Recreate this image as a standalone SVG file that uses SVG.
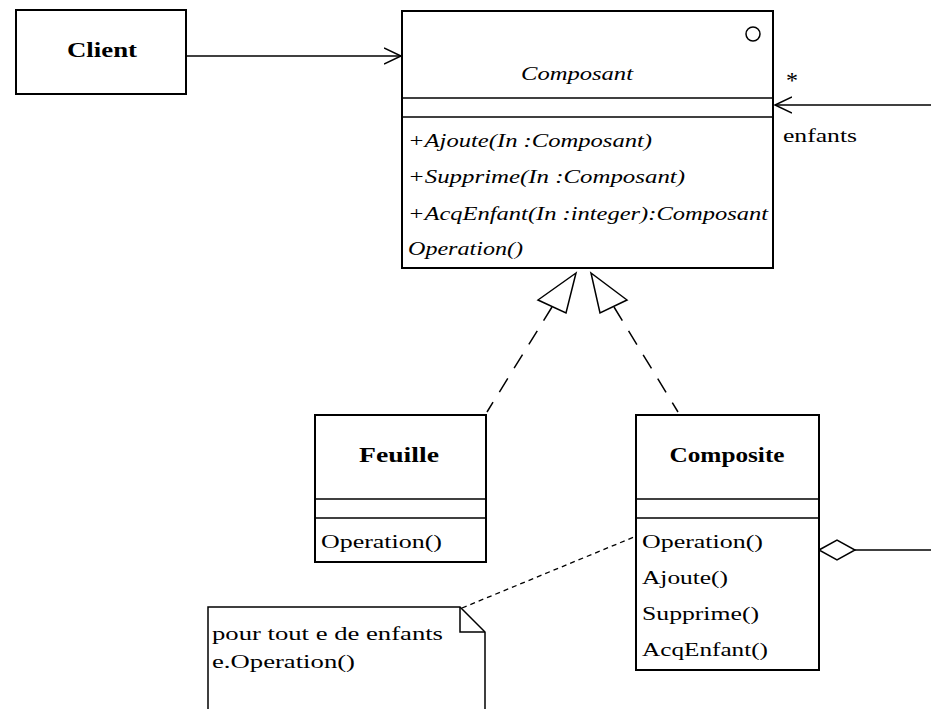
<svg xmlns="http://www.w3.org/2000/svg" width="931" height="709" viewBox="0 0 931 709">
<style>
.box{fill:#fff;stroke:#000;stroke-width:2}
.ln{stroke:#000;stroke-width:1.5;fill:none}
.dash{stroke:#000;stroke-width:1.5;fill:none;stroke-dasharray:16 12}
.dot{stroke:#000;stroke-width:1.3;fill:none;stroke-dasharray:5 4}
.t{font-family:"Liberation Serif","Times New Roman","DejaVu Serif",serif;font-size:19px;fill:#000}
.b{font-weight:bold;text-anchor:middle;font-size:20px}
.i{font-style:italic}
</style>
<defs>
<marker id="open" markerWidth="20" markerHeight="20" refX="17" refY="9" orient="auto" markerUnits="userSpaceOnUse">
<path d="M0,1 L17,9 L0,17" fill="none" stroke="#000" stroke-width="1.5"/>
</marker>
</defs>
<rect width="931" height="709" fill="#fff"/>
<g id="connectors">
<line class="ln" x1="186" y1="56" x2="401" y2="56" marker-end="url(#open)"/>
<line class="ln" x1="931" y1="105" x2="775" y2="105" marker-end="url(#open)"/>
<line class="dash" x1="552" y1="307" x2="487" y2="412"/>
<polygon class="ln" points="576,273 538,300 566,313" fill="#fff"/>
<line class="dash" x1="614" y1="307" x2="678" y2="412"/>
<polygon class="ln" points="591,273 600,313 627,300" fill="#fff"/>
<polygon class="ln" points="819,550 837,540 855,550 837,560" fill="#fff"/>
<line class="ln" x1="855" y1="550" x2="931" y2="550"/>
<line class="dot" x1="462" y1="608" x2="634" y2="537"/>
<text class="t" x="786" y="88" style="font-size:24px">*</text>
<text class="t" x="783" y="142" textLength="74" lengthAdjust="spacingAndGlyphs">enfants</text>
</g>
<g id="client">
<rect class="box" x="16" y="10" width="170" height="84"/>
<text class="t b" x="102" y="57" textLength="70" lengthAdjust="spacingAndGlyphs">Client</text>
</g>
<g id="composant">
<rect class="box" x="402" y="11" width="371" height="257"/>
<line class="ln" x1="402" y1="98" x2="773" y2="98"/>
<line class="ln" x1="402" y1="117" x2="773" y2="117"/>
<circle cx="753" cy="34" r="7" fill="none" stroke="#000" stroke-width="1.5"/>
<text class="t i" x="577" y="80" text-anchor="middle" textLength="112" lengthAdjust="spacingAndGlyphs">Composant</text>
<text class="t i" x="408" y="147" textLength="244" lengthAdjust="spacingAndGlyphs">+Ajoute(In :Composant)</text>
<text class="t i" x="408" y="183" textLength="277" lengthAdjust="spacingAndGlyphs">+Supprime(In :Composant)</text>
<text class="t i" x="408" y="220" textLength="360" lengthAdjust="spacingAndGlyphs">+AcqEnfant(In :integer):Composant</text>
<text class="t i" x="408" y="255" textLength="115" lengthAdjust="spacingAndGlyphs">Operation()</text>
</g>
<g id="feuille">
<rect class="box" x="315" y="415" width="171" height="147"/>
<line class="ln" x1="315" y1="499" x2="486" y2="499"/>
<line class="ln" x1="315" y1="518" x2="486" y2="518"/>
<text class="t b" x="399" y="462" textLength="80" lengthAdjust="spacingAndGlyphs">Feuille</text>
<text class="t" x="321" y="548" textLength="121" lengthAdjust="spacingAndGlyphs">Operation()</text>
</g>
<g id="composite">
<rect class="box" x="636" y="415" width="183" height="255"/>
<line class="ln" x1="636" y1="499" x2="819" y2="499"/>
<line class="ln" x1="636" y1="518" x2="819" y2="518"/>
<text class="t b" x="727" y="462" textLength="115" lengthAdjust="spacingAndGlyphs">Composite</text>
<text class="t" x="642" y="548" textLength="121" lengthAdjust="spacingAndGlyphs">Operation()</text>
<text class="t" x="642" y="584" textLength="86" lengthAdjust="spacingAndGlyphs">Ajoute()</text>
<text class="t" x="642" y="620" textLength="117" lengthAdjust="spacingAndGlyphs">Supprime()</text>
<text class="t" x="642" y="656" textLength="126" lengthAdjust="spacingAndGlyphs">AcqEnfant()</text>
</g>
<g id="note">
<path class="ln" d="M208,712 L208,607 L460,607 L485,632 L485,712" stroke-width="2"/>
<path class="ln" d="M460,607 L460,632 L485,632"/>
<text class="t" x="212" y="640" textLength="231" lengthAdjust="spacingAndGlyphs">pour tout e de enfants</text>
<text class="t" x="212" y="668" textLength="143" lengthAdjust="spacingAndGlyphs">e.Operation()</text>
</g>
</svg>
